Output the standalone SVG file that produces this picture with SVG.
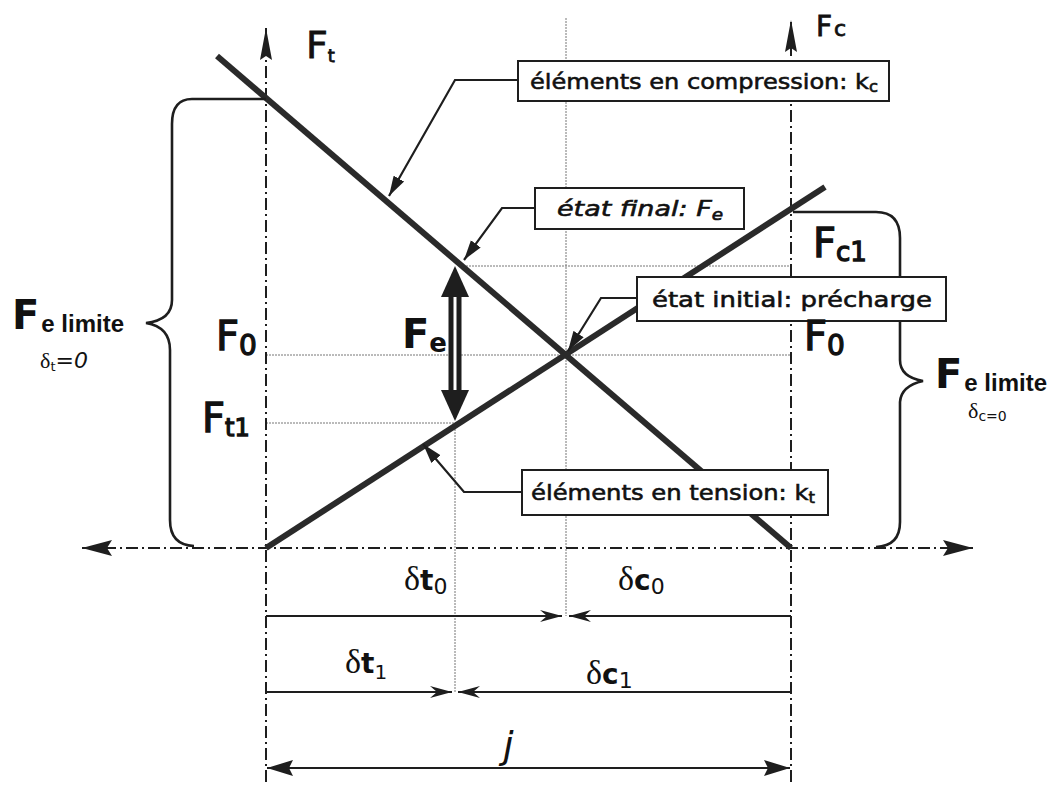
<svg xmlns="http://www.w3.org/2000/svg" width="1050" height="786" viewBox="0 0 1050 786">
<style>
.axis{stroke:#1e1e1e;stroke-width:2;fill:none;stroke-dasharray:12 4 2 4}
.thin{stroke:#777;stroke-width:1;fill:none;stroke-dasharray:2 1}
.thick{stroke:#2a2a2a;stroke-width:6;fill:none;stroke-linecap:butt}
.dim{stroke:#1e1e1e;stroke-width:2.2;fill:none}
.lead{stroke:#1e1e1e;stroke-width:2.2;fill:none}
.brace{stroke:#1e1e1e;stroke-width:2.6;fill:none}
.box{fill:#fff;stroke:#1e1e1e;stroke-width:2}
.bt{font-family:"DejaVu Sans",sans-serif;font-size:22px;fill:#111;stroke:#111;stroke-width:0.6}
.F{font-family:"DejaVu Sans",sans-serif;font-size:40px;fill:#111;stroke:#111;stroke-width:1.3}
.Fb{font-family:"DejaVu Sans",sans-serif;font-size:40px;font-weight:bold;fill:#111}
.lim{font-family:"Liberation Sans",sans-serif;font-weight:bold;font-size:24px}
.d{font-family:"Liberation Serif",serif;font-size:34px;fill:#111}
</style>
<defs>
<marker id="axArr" markerUnits="userSpaceOnUse" markerWidth="34" markerHeight="18" viewBox="-32 -9 34 18" refX="0" refY="0" orient="auto-start-reverse"><path d="M0,0 L-30,-8 L-25,0 L-30,8 Z" fill="#1e1e1e"/></marker>
<marker id="vArr" markerUnits="userSpaceOnUse" markerWidth="36" markerHeight="16" viewBox="-34 -8 36 16" refX="0" refY="0" orient="auto"><path d="M0,0 L-32,-6 L-28,0 L-32,6 Z" fill="#1e1e1e"/></marker>
<marker id="leadArr" markerUnits="userSpaceOnUse" markerWidth="22" markerHeight="14" viewBox="-20 -7 22 14" refX="0" refY="0" orient="auto"><path d="M0,0 L-20,-6 L-20,6 Z" fill="#1e1e1e"/></marker>
<marker id="dimArr" markerUnits="userSpaceOnUse" markerWidth="24" markerHeight="14" viewBox="-22 -7 24 14" refX="0" refY="0" orient="auto-start-reverse"><path d="M0,0 L-22,-6 L-15,0 L-22,6 Z" fill="#1e1e1e"/></marker>
<marker id="bigArr" markerUnits="userSpaceOnUse" markerWidth="28" markerHeight="18" viewBox="-26 -9 28 18" refX="0" refY="0" orient="auto-start-reverse"><path d="M0,0 L-26,-8 L-22,0 L-26,8 Z" fill="#1e1e1e"/></marker>
</defs>

<g id="connectors">
  <line class="thin" x1="266" y1="355" x2="791" y2="355"/>
  <line class="thin" x1="266" y1="423" x2="458" y2="423"/>
  <line class="thin" x1="463" y1="266" x2="791" y2="266"/>
  <line class="thin" x1="566" y1="18" x2="566" y2="616"/>
  <line class="thin" x1="455" y1="423" x2="455" y2="692"/>
  <line class="axis" x1="266" y1="782" x2="266" y2="28" marker-end="url(#vArr)"/>
  <line class="axis" x1="791" y1="782" x2="791" y2="20" marker-end="url(#vArr)"/>
  <line class="axis" x1="82" y1="548" x2="973" y2="548" marker-start="url(#axArr)" marker-end="url(#axArr)"/>
  <line id="compression" class="thick" x1="217" y1="56" x2="791" y2="548"/>
  <line id="tension" class="thick" x1="266" y1="548" x2="825" y2="187"/>
  <path class="brace" d="M266 99 L192 99 Q172 99 172 124 L172 300 Q172 320 146 323 Q170 327 170 350 L170 520 Q170 545 194 546"/>
  <path class="brace" d="M793 212 L876 212 Q900 212 900 238 L900 360 Q900 377 923 381 Q901 386 900 402 L900 522 Q900 546 876 547"/>
  <polygon points="455,266 441,297 469,297" fill="#1e1e1e"/>
  <polygon points="455,421 441,390 469,390" fill="#1e1e1e"/>
  <line x1="455" y1="295" x2="455" y2="392" stroke="#1e1e1e" stroke-width="13"/>
  <line x1="455" y1="297" x2="455" y2="390" stroke="#fff" stroke-width="3"/>
  <line class="dim" x1="266" y1="616" x2="562" y2="616" marker-end="url(#dimArr)"/>
  <line class="dim" x1="791" y1="616" x2="569" y2="616" marker-end="url(#dimArr)"/>
  <line class="dim" x1="266" y1="692" x2="452" y2="692" marker-end="url(#dimArr)"/>
  <line class="dim" x1="791" y1="692" x2="458" y2="692" marker-end="url(#dimArr)"/>
  <line class="dim" x1="267" y1="768" x2="790" y2="768" marker-start="url(#bigArr)" marker-end="url(#bigArr)"/>
  <polyline class="lead" points="518,80 455,80 389,196" marker-end="url(#leadArr)"/>
  <polyline class="lead" points="535,208 502,208 464,260" marker-end="url(#leadArr)"/>
  <polyline class="lead" points="637,298 601,298 568,351" marker-end="url(#leadArr)"/>
  <polyline class="lead" points="522,492 464,492 423,444" marker-end="url(#leadArr)"/>
</g>

<g id="box-compression">
  <rect class="box" x="518" y="61" width="371" height="40"/>
  <text class="bt" x="530" y="89" textLength="348" lengthAdjust="spacingAndGlyphs">éléments en compression: k<tspan font-size="15" dy="3">c</tspan></text>
</g>
<g id="box-final">
  <rect class="box" x="535" y="188" width="209" height="41"/>
  <text class="bt" x="557" y="216" font-style="italic" textLength="166" lengthAdjust="spacingAndGlyphs">état final: F<tspan font-size="15" dy="4">e</tspan></text>
</g>
<g id="box-initial">
  <rect class="box" x="637" y="277" width="309" height="44"/>
  <text class="bt" x="652" y="307" textLength="280" lengthAdjust="spacingAndGlyphs">état initial: précharge</text>
</g>
<g id="box-tension">
  <rect class="box" x="522" y="470" width="306" height="45"/>
  <text class="bt" x="531" y="500" textLength="284" lengthAdjust="spacingAndGlyphs">éléments en tension: k<tspan font-size="15" dy="3">t</tspan></text>
</g>

<g id="labels">
  <text class="F" x="306" y="58" style="font-size:38px;stroke-width:0.8">F<tspan font-size="18" dy="4">t</tspan></text>
  <text class="F" x="816" y="36" style="font-size:28px;stroke-width:0.8">F<tspan font-size="22" dx="2">c</tspan></text>

  <text class="Fb" x="12" y="329">F<tspan class="lim" dx="2" dy="3">e limite</tspan></text>
  <text x="40" y="368" font-family="Liberation Serif,serif" font-size="22" fill="#111">δ<tspan font-family="DejaVu Sans,sans-serif" font-size="13" dy="3">t</tspan><tspan font-family="DejaVu Sans,sans-serif" font-style="italic" font-size="22" dy="-3">=0</tspan></text>

  <text class="F" x="216" y="350">F<tspan font-size="28" dy="5">0</tspan></text>
  <text class="F" x="202" y="432">F<tspan font-size="24" dy="4">t1</tspan></text>
  <text class="Fb" x="402" y="348">F<tspan font-size="26" dy="4">e</tspan></text>

  <text class="F" x="813" y="257">F<tspan font-size="26" dy="4">c1</tspan></text>
  <text class="F" x="804" y="350">F<tspan font-size="28" dy="5">0</tspan></text>

  <text class="Fb" x="935" y="388">F<tspan class="lim" dx="2" dy="3">e limite</tspan></text>
  <text x="968" y="418" font-family="Liberation Serif,serif" font-size="22" fill="#111">δ<tspan font-family="DejaVu Sans,sans-serif" font-size="14" dy="3">c=0</tspan></text>

  <text class="d" x="404" y="590">δ<tspan font-family="DejaVu Sans,sans-serif" font-weight="bold" font-size="28">t</tspan><tspan font-family="DejaVu Sans,sans-serif" font-size="22" dy="4">0</tspan></text>
  <text class="d" x="618" y="590">δ<tspan font-family="DejaVu Sans,sans-serif" font-weight="bold" font-size="28">c</tspan><tspan font-family="DejaVu Sans,sans-serif" font-size="22" dy="4">0</tspan></text>
  <text class="d" x="345" y="673">δ<tspan font-family="DejaVu Sans,sans-serif" font-weight="bold" font-size="28">t</tspan><tspan font-family="DejaVu Sans,sans-serif" font-size="20" dy="6">1</tspan></text>
  <text class="d" x="586" y="684">δ<tspan font-family="DejaVu Sans,sans-serif" font-weight="bold" font-size="28">c</tspan><tspan font-family="DejaVu Sans,sans-serif" font-size="22" dy="4">1</tspan></text>
  <text x="503" y="758" font-family="DejaVu Sans,sans-serif" font-style="italic" font-size="38" fill="#111">j</text>
</g>
</svg>
